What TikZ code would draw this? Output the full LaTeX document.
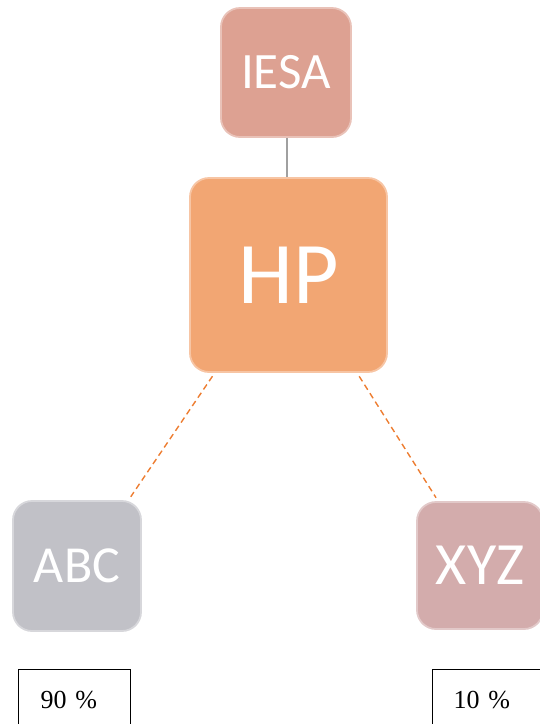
\documentclass[tikz,border=0pt]{standalone}
\usepackage{fontspec}
\setmainfont{Liberation Serif}
\newfontfamily\calibri{Carlito}
\definecolor{iesacol}{RGB}{221,161,146}
\definecolor{hpcol}{RGB}{242,166,115}
\definecolor{abccol}{RGB}{193,193,199}
\definecolor{xyzcol}{RGB}{211,172,172}
\definecolor{linkorange}{RGB}{237,125,49}
\definecolor{linkgray}{RGB}{160,160,160}
\begin{document}
\begin{tikzpicture}[x=1pt,y=-1pt,
  tile/.style={rounded corners=19pt, fill=#1, draw=#1!65!white, line width=1.8pt,
    text=white, font=\calibri, inner sep=0pt},
  pct/.style={draw=black, line width=1.3pt, anchor=north west, inner xsep=0pt,
    inner ysep=21pt, text height=18pt, text depth=60pt, align=left,
    font=\fontsize{26}{30}\selectfont},
  dashlink/.style={draw=linkorange, line width=1.4pt, dash pattern=on 6pt off 4pt,
    shorten <=4pt, shorten >=4pt}]
\useasboundingbox (0,0) rectangle (539,724);
\node[tile=iesacol, minimum width=130pt, minimum height=129pt,
  font=\calibri\fontsize{51}{56}\selectfont] (iesa) at (286,72.5) {IESA};
\node[tile=hpcol, minimum width=197pt, minimum height=194pt,
  font=\calibri\fontsize{88}{96}\selectfont] (hp) at (288.5,275) {HP};
\node[tile=abccol, minimum width=128pt, minimum height=130pt,
  font=\calibri\fontsize{52}{56}\selectfont] (abc) at (77,566) {ABC};
\node[tile=xyzcol, minimum width=126pt, minimum height=127pt,
  font=\calibri\fontsize{60}{66}\selectfont] (xyz) at (480,565.5) {XYZ};
\draw[linkgray, line width=1.8pt] ([xshift=1pt]iesa.south) -- ([xshift=1pt]iesa.south |- hp.north);
\draw[dashlink] (hp.233) -- (abc.52);
\draw[dashlink] (hp.305) -- (xyz.123);
\node[pct, text width=112pt] (p90) at (18,669) {\hspace*{22pt}90 \%};
\node[pct, text width=130pt] (p10) at (432,669) {\hspace*{21pt}10 \%};
\end{tikzpicture}
\end{document}
